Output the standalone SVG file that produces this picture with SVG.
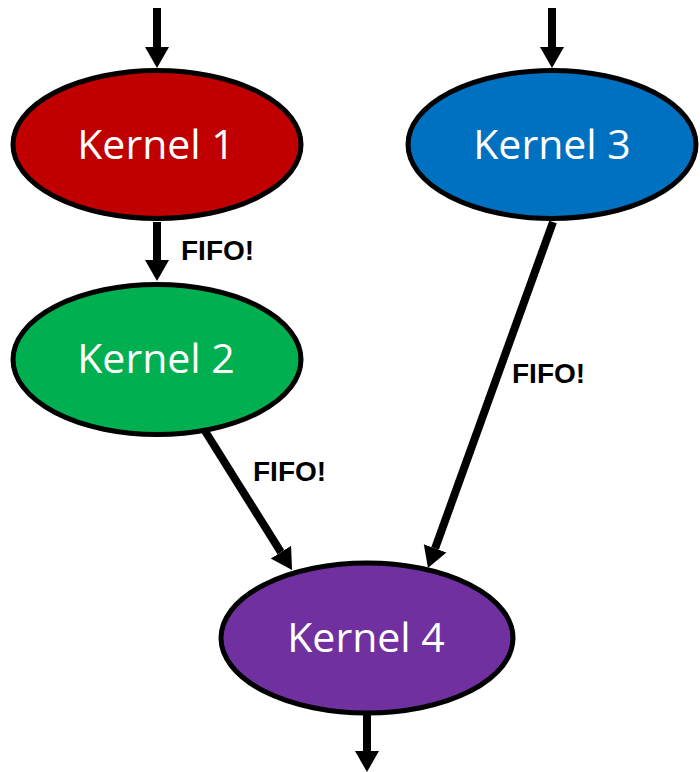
<svg xmlns="http://www.w3.org/2000/svg" width="700" height="772" viewBox="0 0 700 772">
<style>
.node ellipse{stroke:#000;stroke-width:5}
.node text{font-family:"Open Sans","Liberation Sans",sans-serif;font-size:41px;fill:#fff;text-anchor:middle}
.edge{stroke:#000;stroke-width:8;fill:none;marker-end:url(#ah)}
.lbl{font-family:"Liberation Sans","Open Sans",sans-serif;font-weight:700;font-size:28px;fill:#000}
</style>
<defs>
<marker id="ah" markerUnits="userSpaceOnUse" markerWidth="22" markerHeight="26" viewBox="0 -13 22 26" refX="0" refY="0" orient="auto">
<path d="M0,-12 L21,0 L0,12 z" fill="#000"/>
</marker>
</defs>
<g id="connectors">
<line class="edge" x1="157" y1="8" x2="157" y2="47"/>
<line class="edge" x1="552" y1="8" x2="552" y2="47"/>
<line class="edge" x1="157" y1="222" x2="157" y2="260"/>
<line class="edge" x1="205" y1="431" x2="280.9" y2="552.2"/>
<line class="edge" x1="553" y1="222" x2="435.1" y2="548.3"/>
<line class="edge" x1="367" y1="715" x2="367" y2="751"/>
<text class="lbl" x="181" y="260">FIFO!</text>
<text class="lbl" x="512" y="383">FIFO!</text>
<text class="lbl" x="253" y="481">FIFO!</text>
</g>
<g id="kernel1" class="node"><ellipse cx="157" cy="144.5" rx="144" ry="74" fill="#C00000"/><text x="156" y="159">Kernel 1</text></g>
<g id="kernel3" class="node"><ellipse cx="552" cy="144.5" rx="144" ry="74" fill="#0070C0"/><text x="552" y="159">Kernel 3</text></g>
<g id="kernel2" class="node"><ellipse cx="157" cy="359.5" rx="144" ry="75" fill="#00B050"/><text x="156" y="373">Kernel 2</text></g>
<g id="kernel4" class="node"><ellipse cx="367" cy="638" rx="146" ry="75" fill="#7030A0"/><text x="366" y="652">Kernel 4</text></g>
</svg>
